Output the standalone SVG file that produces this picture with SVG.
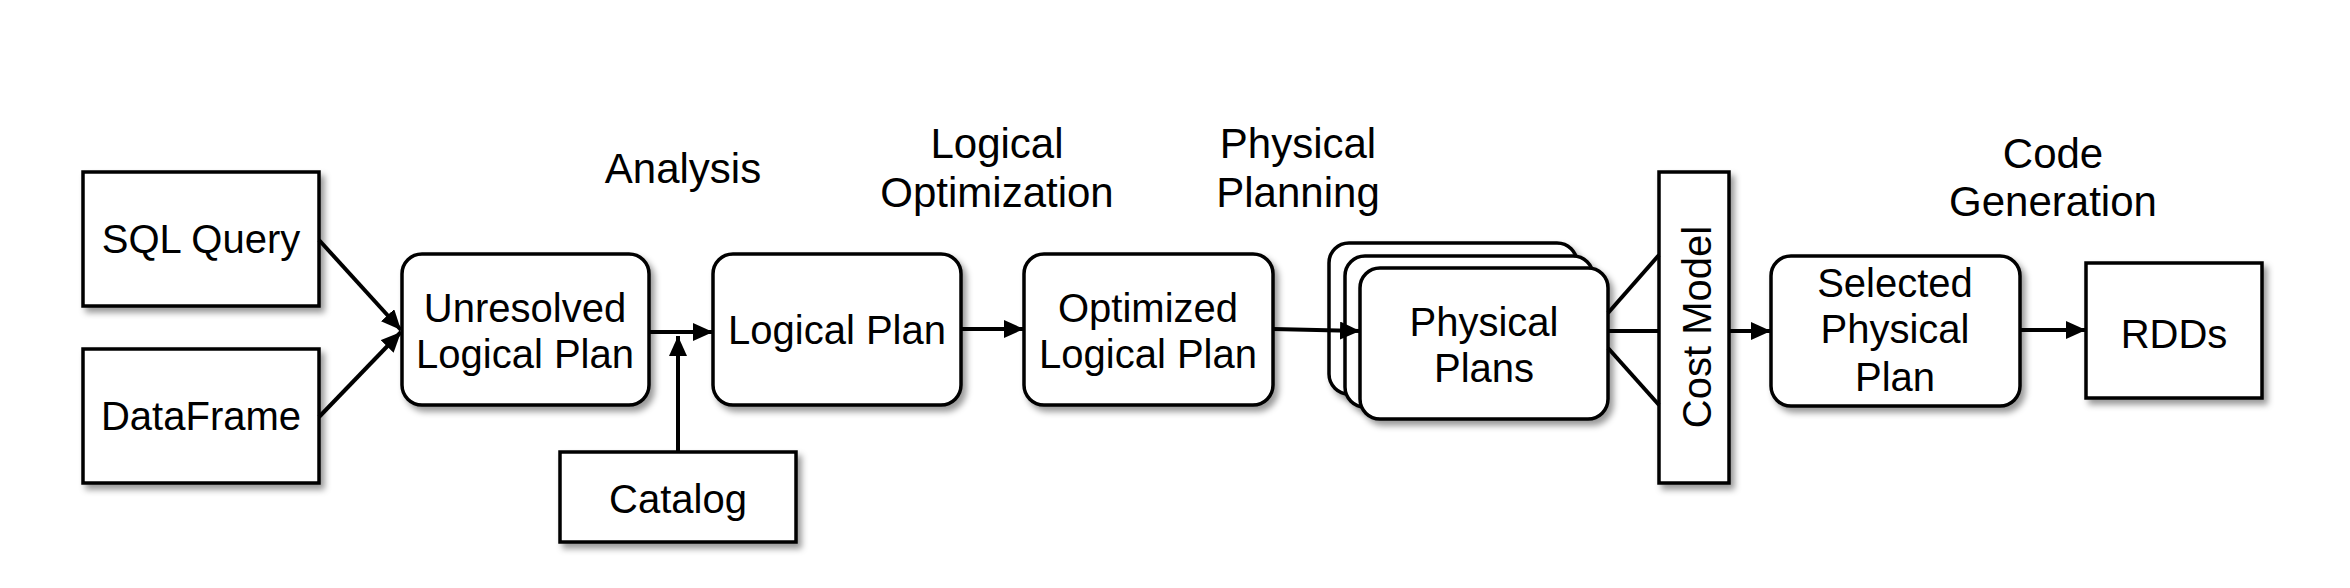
<svg xmlns="http://www.w3.org/2000/svg" width="2350" height="588" viewBox="0 0 2350 588">
<defs>
<style>
.box{fill:#fff;stroke:#000;stroke-width:3.5;filter:url(#sh)}
.t{font-family:"Liberation Sans",Arial,sans-serif;font-size:40px;fill:#000;text-anchor:middle}
.lbl{font-family:"Liberation Sans",Arial,sans-serif;font-size:42px;fill:#000;text-anchor:middle}
.c{stroke:#000;stroke-width:4;fill:none}
.a{marker-end:url(#ah)}
</style>
<filter id="sh" x="-10%" y="-10%" width="130%" height="130%">
<feDropShadow dx="4" dy="5" stdDeviation="3" flood-color="#000" flood-opacity="0.4"/>
</filter>
<marker id="ah" markerUnits="userSpaceOnUse" markerWidth="20" markerHeight="18" refX="20" refY="9" orient="auto">
<path d="M0,0 L20,9 L0,18 z" fill="#000"/>
</marker>
</defs>
<rect width="2350" height="588" fill="#fff"/>
<g id="labels">
<text class="lbl" x="683" y="183">Analysis</text>
<text class="lbl" x="997" y="158">Logical</text>
<text class="lbl" x="997" y="207">Optimization</text>
<text class="lbl" x="1298" y="158">Physical</text>
<text class="lbl" x="1298" y="207">Planning</text>
<text class="lbl" x="2053" y="168">Code</text>
<text class="lbl" x="2053" y="216">Generation</text>
</g>
<g id="sql">
<rect class="box" x="83" y="172" width="236" height="134"/>
<text class="t" x="201" y="253">SQL Query</text>
</g>
<g id="dataframe">
<rect class="box" x="83" y="349" width="236" height="134"/>
<text class="t" x="201" y="430">DataFrame</text>
</g>
<g id="unresolved">
<rect class="box" x="402" y="254" width="247" height="151" rx="20"/>
<text class="t" x="525" y="322">Unresolved</text>
<text class="t" x="525" y="368">Logical Plan</text>
</g>
<g id="catalog">
<rect class="box" x="560" y="452" width="236" height="90"/>
<text class="t" x="678" y="513">Catalog</text>
</g>
<g id="logical">
<rect class="box" x="713" y="254" width="248" height="151" rx="20"/>
<text class="t" x="837" y="344">Logical Plan</text>
</g>
<g id="optimized">
<rect class="box" x="1024" y="254" width="249" height="151" rx="20"/>
<text class="t" x="1148" y="322">Optimized</text>
<text class="t" x="1148" y="368">Logical Plan</text>
</g>
<g id="physical">
<rect class="box" x="1329" y="243" width="248" height="151" rx="20"/>
<rect class="box" x="1345" y="256" width="248" height="151" rx="20"/>
<rect class="box" x="1360" y="268" width="248" height="151" rx="20"/>
<text class="t" x="1484" y="336">Physical</text>
<text class="t" x="1484" y="382">Plans</text>
</g>
<g id="costmodel">
<rect class="box" x="1659" y="172" width="70" height="311"/>
<text class="t" transform="translate(1711,327) rotate(-90)">Cost Model</text>
</g>
<g id="selected">
<rect class="box" x="1771" y="256" width="249" height="150" rx="20"/>
<text class="t" x="1895" y="297">Selected</text>
<text class="t" x="1895" y="343">Physical</text>
<text class="t" x="1895" y="391">Plan</text>
</g>
<g id="rdds">
<rect class="box" x="2086" y="263" width="176" height="135"/>
<text class="t" x="2174" y="348">RDDs</text>
</g>
<g id="connectors">
<line class="c a" x1="319" y1="240" x2="401" y2="330"/>
<line class="c a" x1="319" y1="417" x2="401" y2="332"/>
<line class="c a" x1="649" y1="332" x2="713" y2="332"/>
<line class="c a" x1="678" y1="452" x2="678" y2="336"/>
<line class="c a" x1="961" y1="329" x2="1024" y2="329"/>
<line class="c a" x1="1273" y1="329" x2="1360" y2="331"/>
<line class="c" x1="1608" y1="313" x2="1659" y2="255"/>
<line class="c" x1="1608" y1="331" x2="1659" y2="331"/>
<line class="c" x1="1608" y1="348" x2="1659" y2="405"/>
<line class="c a" x1="1729" y1="331" x2="1771" y2="331"/>
<line class="c a" x1="2020" y1="330" x2="2086" y2="330"/>
</g>
</svg>
